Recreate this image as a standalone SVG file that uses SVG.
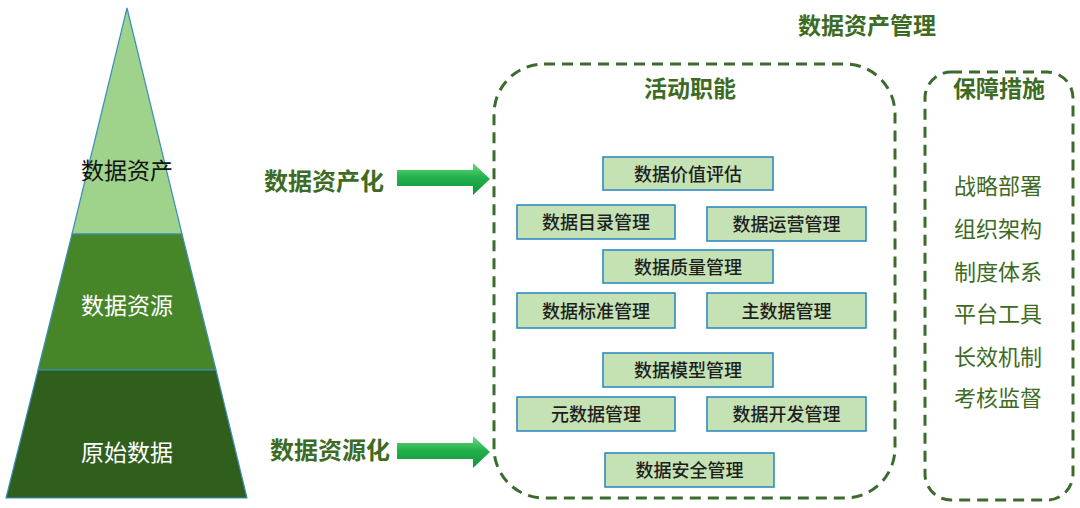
<svg xmlns="http://www.w3.org/2000/svg" width="1080" height="508" viewBox="0 0 1080 508">
<defs>
<linearGradient id="ag" x1="0" y1="0" x2="0" y2="1">
<stop offset="0" stop-color="#6bd97f"/>
<stop offset="0.45" stop-color="#22b14c"/>
<stop offset="1" stop-color="#13933b"/>
</linearGradient>
<style>
text{font-family:"Noto Sans CJK SC","Noto Sans",sans-serif;text-anchor:middle;dominant-baseline:central}
.t{font-weight:bold;fill:#3d6b24;font-size:23px}
.lay{stroke:#3b8fc0;stroke-width:1.2}
.bx rect{fill:#c5e2b4;stroke:#2f8cc4;stroke-width:1.6}
.bx text{font-size:18px;fill:#1e1e1e;font-weight:500}
.dash{fill:none;stroke:#3d6b2e;stroke-width:3;stroke-dasharray:11 7}
.it{font-size:22px;fill:#3d6b24}
</style>
</defs>
<rect width="1080" height="508" fill="#ffffff"/>
<g id="pyramid">
<g id="layer-asset"><polygon class="lay" points="127,8 182,234 72,234" fill="#9fd28a"/><text x="127" y="169" font-size="23" fill="#111">数据资产</text></g>
<g id="layer-resource"><polygon class="lay" points="72,234 182,234 216,370 38,370" fill="#478529"/><text x="127" y="304" font-size="23" fill="#fff">数据资源</text></g>
<g id="layer-raw"><polygon class="lay" points="38,370 216,370 247,498 6,498" fill="#2f5e1d"/><text x="127" y="451" font-size="23" fill="#fff">原始数据</text></g>
</g>
<g id="connectors">
<polygon points="397,170 473,170 473,163 490,179 473,195 473,186 397,186" fill="url(#ag)"/>
<polygon points="397,443 473,443 473,436 490,452 473,468 473,459 397,459" fill="url(#ag)"/>
</g>
<g id="label-assetize"><text class="t" x="324" y="179" style="font-size:24px">数据资产化</text></g>
<g id="label-resourcize"><text class="t" x="330" y="448" style="font-size:24px">数据资源化</text></g>
<g id="title"><text class="t" x="867" y="24">数据资产管理</text></g>
<g id="activities">
<rect class="dash" x="494" y="64" width="401" height="434" rx="50"/>
<text class="t" x="690" y="87">活动职能</text>
</g>
<g id="n1" class="bx"><rect x="603" y="157" width="170" height="33"/><text x="688" y="172.5">数据价值评估</text></g>
<g id="n2" class="bx"><rect x="517" y="205" width="158" height="34"/><text x="596" y="221">数据目录管理</text></g>
<g id="n3" class="bx"><rect x="707" y="207" width="159" height="34"/><text x="786.5" y="223">数据运营管理</text></g>
<g id="n4" class="bx"><rect x="603" y="250" width="170" height="33"/><text x="688" y="265.5">数据质量管理</text></g>
<g id="n5" class="bx"><rect x="517" y="293" width="158" height="35"/><text x="596" y="309.5">数据标准管理</text></g>
<g id="n6" class="bx"><rect x="707" y="293" width="159" height="35"/><text x="786.5" y="309.5">主数据管理</text></g>
<g id="n7" class="bx"><rect x="603" y="353" width="170" height="34"/><text x="688" y="369">数据模型管理</text></g>
<g id="n8" class="bx"><rect x="517" y="397" width="158" height="34"/><text x="596" y="413">元数据管理</text></g>
<g id="n9" class="bx"><rect x="707" y="397" width="159" height="34"/><text x="786.5" y="413">数据开发管理</text></g>
<g id="n10" class="bx"><rect x="605" y="453" width="169" height="34"/><text x="689.5" y="469">数据安全管理</text></g>
<g id="safeguards">
<rect class="dash" x="925" y="72" width="148" height="428" rx="26"/>
<text class="t" x="999" y="87">保障措施</text>
<text class="it" x="998" y="184">战略部署</text>
<text class="it" x="998" y="227">组织架构</text>
<text class="it" x="998" y="270">制度体系</text>
<text class="it" x="998" y="312">平台工具</text>
<text class="it" x="998" y="355">长效机制</text>
<text class="it" x="998" y="396">考核监督</text>
</g>
</svg>
